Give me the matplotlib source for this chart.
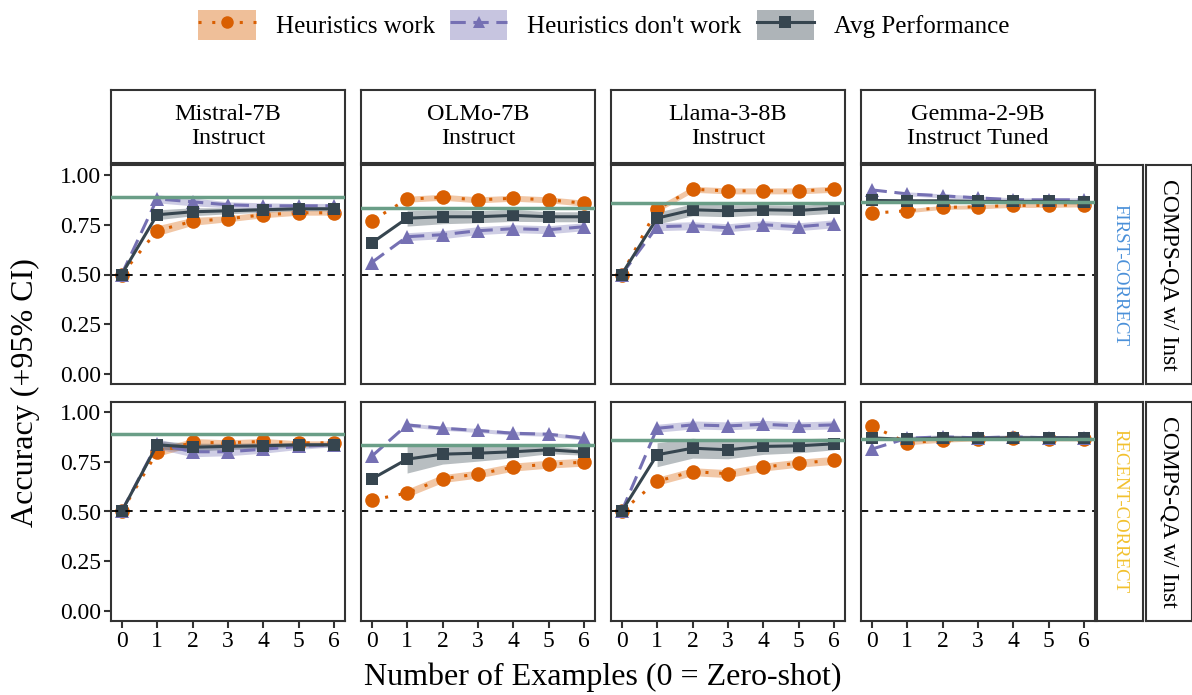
import numpy as np
import matplotlib
matplotlib.use("Agg")
import matplotlib.pyplot as plt
from matplotlib.lines import Line2D
from matplotlib.patches import Patch

plt.rcParams['font.family'] = ['Liberation Serif', 'DejaVu Serif']

# ---- data ----
shots = [0, 1, 2, 3, 4, 5, 6]
models = ["Mistral-7B\nInstruct", "OLMo-7B\nInstruct", "Llama-3-8B\nInstruct", "Gemma-2-9B\nInstruct Tuned"]
settings = ["FIRST-CORRECT", "RECENT-CORRECT"]
dataset = "COMPS-QA w/ Inst"

# reference line (green) per model
ref_line = [0.887, 0.832, 0.858, 0.862]

# FIRST-CORRECT
fc_work = [
    [0.50, 0.72, 0.767, 0.78, 0.80, 0.81, 0.81],
    [0.77, 0.878, 0.888, 0.875, 0.883, 0.875, 0.858],
    [0.50, 0.828, 0.928, 0.92, 0.92, 0.92, 0.928],
    [0.808, 0.82, 0.837, 0.84, 0.847, 0.847, 0.85],
]
fc_nowork = [
    [0.50, 0.88, 0.865, 0.85, 0.845, 0.845, 0.845],
    [0.56, 0.69, 0.70, 0.72, 0.73, 0.725, 0.74],
    [0.50, 0.74, 0.745, 0.735, 0.75, 0.74, 0.755],
    [0.925, 0.905, 0.895, 0.885, 0.875, 0.875, 0.875],
]
fc_avg = [
    [0.50, 0.80, 0.815, 0.82, 0.825, 0.83, 0.83],
    [0.658, 0.783, 0.79, 0.79, 0.797, 0.79, 0.79],
    [0.50, 0.783, 0.825, 0.82, 0.825, 0.822, 0.833],
    [0.872, 0.87, 0.87, 0.867, 0.867, 0.867, 0.864],
]
# RECENT-CORRECT
rc_work = [
    [0.50, 0.797, 0.847, 0.845, 0.852, 0.845, 0.845],
    [0.557, 0.593, 0.665, 0.688, 0.723, 0.738, 0.748],
    [0.50, 0.652, 0.70, 0.69, 0.723, 0.743, 0.757],
    [0.93, 0.845, 0.858, 0.865, 0.87, 0.865, 0.865],
]
rc_nowork = [
    [0.50, 0.84, 0.80, 0.80, 0.813, 0.827, 0.835],
    [0.777, 0.935, 0.918, 0.907, 0.893, 0.888, 0.868],
    [0.50, 0.918, 0.935, 0.93, 0.938, 0.93, 0.935],
    [0.813, 0.868, 0.875, 0.87, 0.875, 0.87, 0.87],
]
rc_avg = [
    [0.50, 0.835, 0.823, 0.827, 0.83, 0.835, 0.835],
    [0.663, 0.763, 0.788, 0.793, 0.80, 0.81, 0.798],
    [0.50, 0.785, 0.818, 0.81, 0.827, 0.83, 0.84],
    [0.87, 0.862, 0.87, 0.868, 0.87, 0.87, 0.87],
]

# 95% CI half widths (x >= 1 only)
fc_work_ci = [[0.025, 0.02, 0.015, 0.015, 0.012, 0.012], [0.015] * 6, [0.015] * 6, [0.01] * 6]
fc_nowork_ci = [[0.02, 0.02, 0.015, 0.015, 0.012, 0.012], [0.02] * 6, [0.02] * 6, [0.01] * 6]
fc_avg_ci = [[0.025, 0.02, 0.015, 0.012, 0.01, 0.01], [0.04, 0.035, 0.03, 0.03, 0.025, 0.025],
             [0.03, 0.03, 0.03, 0.025, 0.025, 0.025], [0.01] * 6]
rc_work_ci = [[0.02, 0.02, 0.015, 0.015, 0.01, 0.01], [0.02] * 6, [0.02] * 6, [0.01] * 6]
rc_nowork_ci = [[0.025, 0.025, 0.02, 0.02, 0.015, 0.01], [0.01] * 6, [0.02] * 6, [0.01] * 6]
rc_avg_ci = [[0.02, 0.02, 0.015, 0.015, 0.01, 0.01], [0.07, 0.05, 0.04, 0.03, 0.02, 0.015],
             [0.06, 0.05, 0.045, 0.04, 0.035, 0.03], [0.01] * 6]

data = [
    (fc_work, fc_work_ci, fc_nowork, fc_nowork_ci, fc_avg, fc_avg_ci),
    (rc_work, rc_work_ci, rc_nowork, rc_nowork_ci, rc_avg, rc_avg_ci),
]

c_work = "#d95f02"
c_nowork = "#7570b3"
c_avg = "#36454f"
c_ref = "#6a9e87"
border = "#333333"
setting_colors = ["#4a90d9", "#f2c12e"]
ls_work = (0, (1, 3.5))
ls_nowork = (0, (5, 2.5))

W, H = 1192, 695
fig = plt.figure(figsize=(W / 100, H / 100), dpi=100)


def px_axes(x0, y0, x1, y1):
    return fig.add_axes([x0 / W, 1 - y1 / H, (x1 - x0) / W, (y1 - y0) / H])


def strip(x0, y0, x1, y1, text, rot=0, color="black", size=14):
    a = px_axes(x0, y0, x1, y1)
    a.set_xticks([])
    a.set_yticks([])
    for s in a.spines.values():
        s.set_color(border)
        s.set_linewidth(1.5)
    a.text(0.5, 0.5, text, ha="center", va="center", rotation=rot, color=color,
           fontsize=size, transform=a.transAxes, linespacing=1.2)
    return a


cols = [(111, 345), (361, 595), (611, 845), (861, 1095)]
rows = [(165, 384), (402, 621)]

for j, (cx0, cx1) in enumerate(cols):
    strip(cx0, 90, cx1, 163, models[j], size=17.5)

x = np.array(shots)
for i, (ry0, ry1) in enumerate(rows):
    work, work_ci, nowork, nowork_ci, avg, avg_ci = data[i]
    for j, (cx0, cx1) in enumerate(cols):
        ax = px_axes(cx0, ry0, cx1, ry1)
        for vals, ci, col, ls, mk, ms in [
            (work[j], work_ci[j], c_work, ls_work, "o", 10.5),
            (nowork[j], nowork_ci[j], c_nowork, ls_nowork, "^", 10.5),
            (avg[j], avg_ci[j], c_avg, "-", "s", 9),
        ]:
            v = np.array(vals)
            c = np.array(ci)
            ax.fill_between(x[1:], v[1:] - c, v[1:] + c, color=col, alpha=0.35, lw=0)
            ax.plot(x, v, color=col, ls=ls, lw=2.2, marker=mk, ms=ms, mew=0)
        ax.axhline(ref_line[j], color=c_ref, lw=2.5, zorder=5)
        ax.axhline(0.5, color="black", ls=(0, (4, 4)), lw=1.3)
        ax.set_xlim(-0.3, 6.3)
        ax.set_ylim(-0.05, 1.05)
        ax.set_yticks([0, 0.25, 0.5, 0.75, 1.0])
        ax.set_xticks(shots)
        ax.tick_params(labelsize=17, color=border, width=1.5, length=5, pad=2)
        if j == 0:
            ax.set_yticklabels(["0.00", "0.25", "0.50", "0.75", "1.00"])
        else:
            ax.set_yticklabels([])
            ax.tick_params(axis="y", length=0)
        if i == 1:
            ax.set_xticklabels([str(s) for s in shots])
        else:
            ax.set_xticklabels([])
            ax.tick_params(axis="x", length=0)
        for s in ax.spines.values():
            s.set_color(border)
            s.set_linewidth(1.5)
    strip(1097, ry0, 1143, ry1, settings[i], rot=-90, color=setting_colors[i], size=13.5)
    strip(1146, ry0, 1192, ry1, dataset, rot=-90, size=17)

fig.text(25 / W, 1 - 393 / H, "Accuracy (+95% CI)", rotation=90, ha="center", va="center", fontsize=23)
fig.text(603 / W, 1 - 677 / H, "Number of Examples (0 = Zero-shot)", ha="center", va="center", fontsize=23)

handles = [
    (Patch(color=c_work, alpha=0.4, lw=0), Line2D([], [], color=c_work, ls=ls_work, lw=2.2, marker="o", ms=9, mew=0)),
    (Patch(color=c_nowork, alpha=0.4, lw=0), Line2D([], [], color=c_nowork, ls=ls_nowork, lw=2.2, marker="^", ms=9, mew=0)),
    (Patch(color=c_avg, alpha=0.4, lw=0), Line2D([], [], color=c_avg, ls="-", lw=2.2, marker="s", ms=8, mew=0)),
]
fig.legend(handles, ["Heuristics work", "Heuristics don't work", "Avg Performance"],
           loc="center", bbox_to_anchor=(604 / W, 1 - 25 / H), ncol=3, frameon=False,
           fontsize=18, handlelength=2.3, handleheight=1.5, columnspacing=0.6, handletextpad=0.8)

fig.savefig("out.png", dpi=100)
